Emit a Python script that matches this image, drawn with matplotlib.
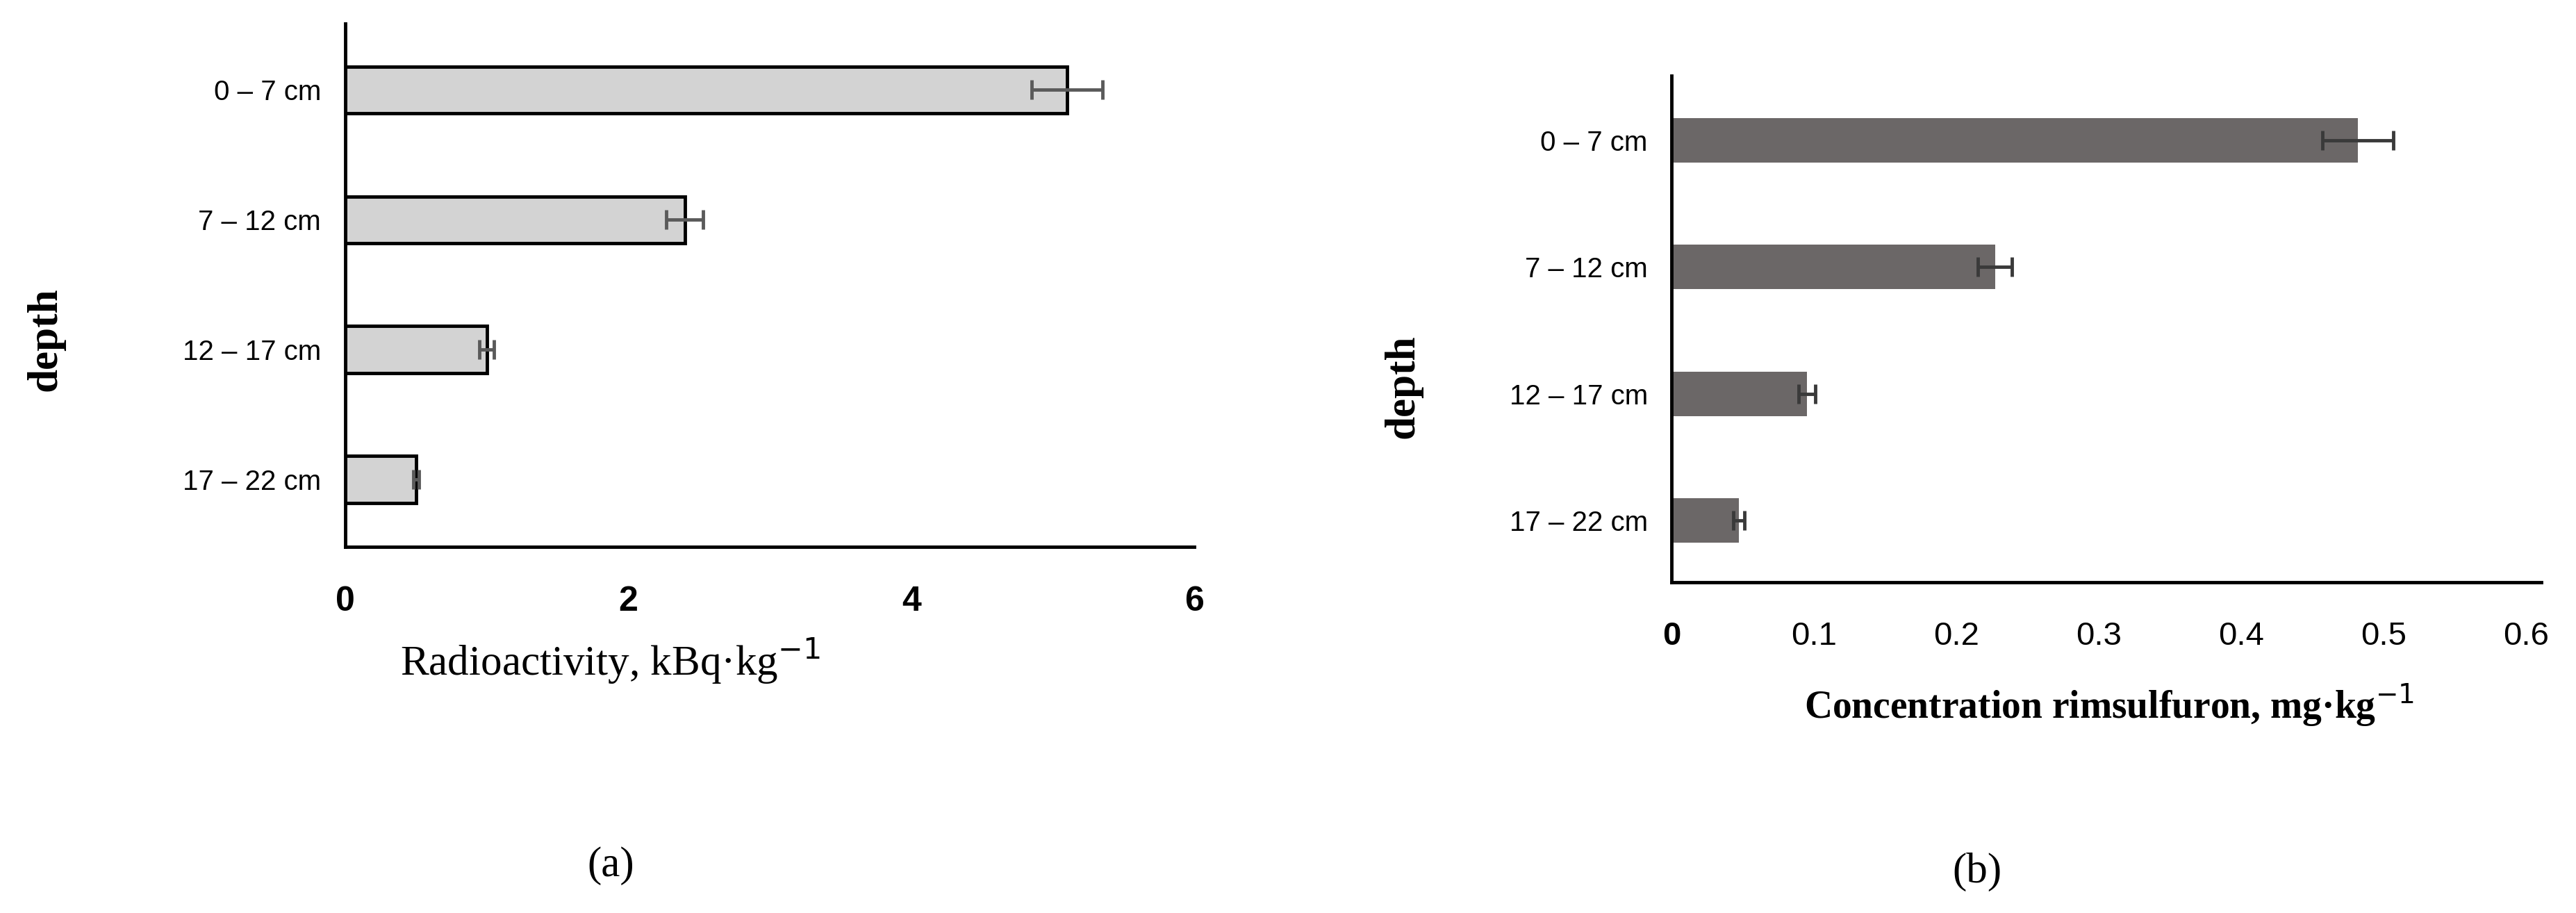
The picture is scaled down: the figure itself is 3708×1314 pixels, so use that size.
import matplotlib
matplotlib.use("Agg")
import matplotlib.pyplot as plt

depths = ["0 – 7 cm", "7 – 12 cm", "12 – 17 cm", "17 – 22 cm"]
radio = [5.1, 2.4, 1.0, 0.5]
radio_err = [0.25, 0.13, 0.05, 0.02]
conc = [0.482, 0.227, 0.095, 0.047]
conc_err = [0.025, 0.012, 0.006, 0.004]

fig = plt.figure(figsize=(37.08, 13.14), dpi=100)
serif = "Liberation Serif"
sans = "Liberation Sans"

# Panel a
ax = fig.add_axes([0.134, 0.401, 0.3296, 0.573])
pos = range(len(depths))
ax.barh(pos, radio, height=0.36, color="#d3d3d3", edgecolor="black", linewidth=3.5,
        xerr=radio_err, error_kw=dict(ecolor="#5a5a5a", elinewidth=3.5, capsize=10, capthick=3.5))
ax.set_ylim(3.52, -0.51)
ax.set_xlim(0, 6)
ax.set_xticks([0, 2, 4, 6])
ax.set_yticks(list(pos))
ax.set_yticklabels(depths, fontfamily=sans, fontsize=29)
for t in ax.get_xticklabels():
    t.set_fontfamily(sans); t.set_fontweight("bold"); t.set_fontsize(36)
ax.tick_params(length=0, pad=25)
ax.tick_params(axis="x", pad=40)
for s in ["top", "right"]:
    ax.spines[s].set_visible(False)
for s in ["left", "bottom"]:
    ax.spines[s].set_linewidth(3.5)
fig.text(0.237, 1 - 951/1314, "Radioactivity, kBq·kg$^{-1}$", fontfamily=serif, fontsize=44,
         ha="center", va="center")
fig.text(65/3708, 1 - 488/1314, "depth", fontfamily=serif, fontweight="bold", fontsize=44,
         rotation=90, ha="center", va="center")
fig.text(879/3708, 1 - 1246/1314, "(a)", fontfamily=serif, fontsize=44, ha="center", va="center")

# Panel b
bx = fig.add_axes([0.649, 0.362, 0.3376, 0.555])
bx.barh(pos, conc, height=0.35, color="#6b6767", edgecolor="none",
        xerr=conc_err, error_kw=dict(ecolor="#3a3a3a", elinewidth=3.5, capsize=10, capthick=3.5))
bx.set_ylim(3.49, -0.51)
bx.set_xlim(0, 0.611)
bx.set_xticks([0, 0.1, 0.2, 0.3, 0.4, 0.5, 0.6])
bx.set_xticklabels(["0", "0.1", "0.2", "0.3", "0.4", "0.5", "0.6"])
bx.set_yticks(list(pos))
bx.set_yticklabels(depths, fontfamily=sans, fontsize=29)
for i, t in enumerate(bx.get_xticklabels()):
    t.set_fontfamily(sans); t.set_fontsize(34)
    if i == 0:
        t.set_fontweight("bold")
bx.tick_params(length=0, pad=25)
bx.tick_params(axis="x", pad=40)
for s in ["top", "right"]:
    bx.spines[s].set_visible(False)
for s in ["left", "bottom"]:
    bx.spines[s].set_linewidth(3.5)
fig.text(3036/3708, 1 - 1015/1314, "Concentration rimsulfuron, mg·kg$^{-1}$", fontfamily=serif,
         fontweight="bold", fontsize=40, ha="center", va="center")
fig.text(2020/3708, 1 - 556/1314, "depth", fontfamily=serif, fontweight="bold", fontsize=44,
         rotation=90, ha="center", va="center")
fig.text(2846/3708, 1 - 1255/1314, "(b)", fontfamily=serif, fontsize=44, ha="center", va="center")

fig.savefig("out.png", dpi=100)
